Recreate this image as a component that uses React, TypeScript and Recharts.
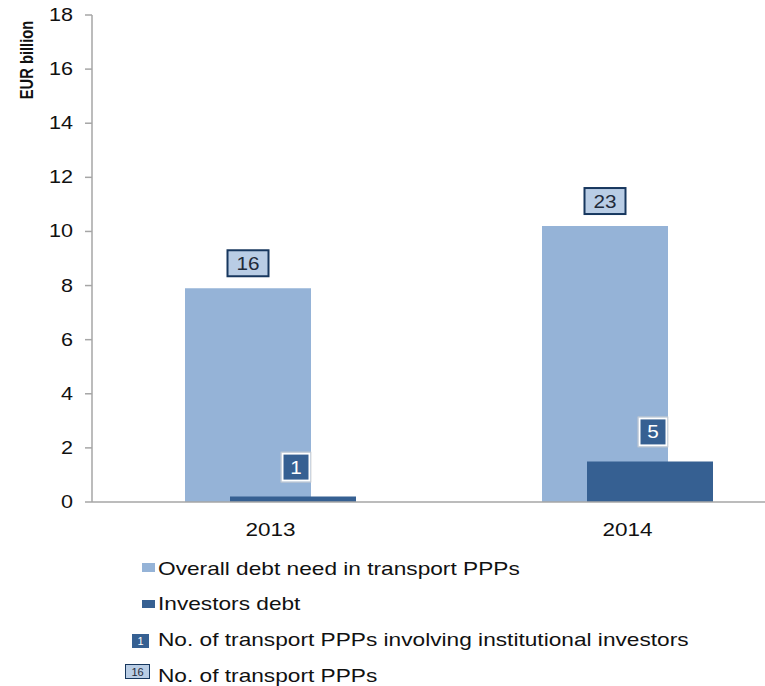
import { BarChart, Bar, XAxis, YAxis, LabelList } from "recharts";

const years = ["2013", "2014"];
const overallDebt = [7.9, 10.2];
const investorsDebt = [0.2, 1.5];
const overallCount = [16, 23];
const investorsCount = [1, 5];
const yTicks = [0, 2, 4, 6, 8, 10, 12, 14, 16, 18];

const legendNames = [
  "Overall debt need in transport PPPs",
  "Investors debt",
  "No. of transport PPPs involving institutional investors",
  "No. of transport PPPs",
];

const LIGHT = "#95b3d7";
const DARK = "#366092";
const NAVY = "#17375e";
const AXIS = "#a6a6a6";
const FONT = "'Liberation Sans', Arial, sans-serif";

const data = years.map((year, i) => ({
  year,
  overall: overallDebt[i],
  investors: investorsDebt[i],
  overallN: overallCount[i],
  investorsN: investorsCount[i],
}));

function YTick(props: any) {
  const { x, y, payload } = props;
  return (
    <g transform={`translate(${x},${y})`}>
      <text transform="scale(1.2,1)" textAnchor="end" dy={6} fontSize={18} fontFamily={FONT} fill="#111">
        {payload.value}
      </text>
    </g>
  );
}

function XTick(props: any) {
  const { x, y, payload } = props;
  return (
    <g transform={`translate(${x},${y})`}>
      <text transform="scale(1.25,1)" textAnchor="middle" dy={26} fontSize={18} fontFamily={FONT} fill="#111">
        {payload.value}
      </text>
    </g>
  );
}

function lightBox(p: any) {
  const cx = p.x + p.width / 2;
  const bottom = p.y - 12;
  const w = 41;
  const h = 26;
  return (
    <g>
      <rect x={cx - w / 2} y={bottom - h} width={w} height={h} fill="#b9cde5" stroke={NAVY} strokeWidth={2} />
      <g transform={`translate(${cx},${bottom - 6})`}>
        <text transform="scale(1.15,1)" textAnchor="middle" fontSize={18} fontFamily={FONT} fill="#1f2a3a">
          {p.value}
        </text>
      </g>
    </g>
  );
}

function darkBox(p: any) {
  const cx = p.x + p.width / 2 + 3;
  const bottom = p.y - 16;
  const w = 27;
  const h = 27;
  return (
    <g>
      <rect x={cx - w / 2} y={bottom - h} width={w} height={h} fill={DARK} stroke="#ffffff" strokeWidth={2} />
      <rect x={cx - w / 2 - 1.5} y={bottom - h - 1.5} width={w + 3} height={h + 3} fill="none" stroke="#d0d0d0" strokeWidth={0.8} />
      <g transform={`translate(${cx},${bottom - 7})`}>
        <text transform="scale(1.15,1)" textAnchor="middle" fontSize={18} fontFamily={FONT} fill="#ffffff">
          {p.value}
        </text>
      </g>
    </g>
  );
}

function LegendBlock() {
  const baselines = [575, 610, 646, 682];
  return (
    <svg width={765} height={686} style={{ position: "absolute", left: 0, top: 0, pointerEvents: "none" }}>
      <rect x={142} y={563} width={13} height={9} fill={LIGHT} />
      <rect x={142} y={600} width={13} height={8} fill={DARK} />
      <rect x={132} y={634} width={17} height={14} fill={DARK} />
      <text x={140.5} y={645} textAnchor="middle" fontSize={11} fontFamily={FONT} fill="#fff">
        {investorsCount[0]}
      </text>
      <rect x={125.5} y={664.5} width={24} height={14} fill="#b9cde5" stroke={NAVY} strokeWidth={1} />
      <text x={137.5} y={676} textAnchor="middle" fontSize={11} fontFamily={FONT} fill="#1f2a3a">
        {overallCount[0]}
      </text>
      {legendNames.map((name, i) => (
        <g key={name} transform={`translate(158,${baselines[i]})`}>
          <text transform="scale(1.26,1)" fontSize={18} fontFamily={FONT} fill="#111">
            {name}
          </text>
        </g>
      ))}
    </svg>
  );
}

export default function App() {
  return (
    <div style={{ position: "absolute", left: 0, top: 0, width: 765, height: 686, overflow: "hidden", background: "#fff" }}>
      <BarChart
        width={810}
        height={686}
        data={data}
        margin={{ top: 15, right: 4, left: 0, bottom: 154 }}
        barSize={126}
        barGap={-81}
      >
        <XAxis
          dataKey="year"
          height={30}
          axisLine={{ stroke: AXIS, strokeWidth: 1.5 }}
          tickLine={false}
          tick={<XTick />}
        />
        <YAxis
          width={92}
          domain={[0, 18]}
          ticks={yTicks}
          interval={0}
          axisLine={{ stroke: AXIS, strokeWidth: 1.5 }}
          tickLine={{ stroke: AXIS, strokeWidth: 1.5 }}
          tickSize={7}
          tickMargin={12}
          tick={<YTick />}
          label={{
            content: () => (
              <g transform="translate(33,60) rotate(-90)">
                <text transform="scale(0.82,1)" textAnchor="middle" fontSize={18} fontWeight="bold" fontFamily={FONT} fill="#111">
                  EUR billion
                </text>
              </g>
            ),
          }}
        />
        <Bar dataKey="overall" fill={LIGHT} isAnimationActive={false}>
          <LabelList dataKey="overallN" content={lightBox} />
        </Bar>
        <Bar dataKey="investors" fill={DARK} isAnimationActive={false}>
          <LabelList dataKey="investorsN" content={darkBox} />
        </Bar>
      </BarChart>
      <LegendBlock />
    </div>
  );
}
